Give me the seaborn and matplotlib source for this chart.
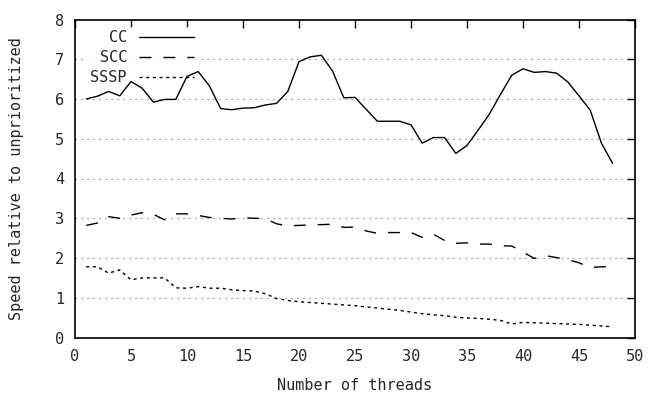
import matplotlib
matplotlib.use("Agg")
import matplotlib.pyplot as plt
import seaborn as sns
import pandas as pd

threads = list(range(1, 49))
cc = [6.0, 6.07, 6.19, 6.08, 6.44, 6.27, 5.92, 5.99, 5.99, 6.57, 6.69, 6.33, 5.76, 5.73, 5.77, 5.78,
      5.85, 5.89, 6.19, 6.94, 7.06, 7.1, 6.7, 6.03, 6.04, 5.74, 5.44, 5.44, 5.44, 5.35, 4.89, 5.03,
      5.03, 4.63, 4.83, 5.22, 5.62, 6.12, 6.6, 6.76, 6.67, 6.69, 6.65, 6.43, 6.08, 5.72, 4.89, 4.38]
scc = [2.82, 2.88, 3.04, 3.0, 3.08, 3.14, 3.1, 2.96, 3.11, 3.11, 3.07, 3.02, 3.0, 2.98, 3.01, 3.0,
       2.99, 2.86, 2.81, 2.82, 2.83, 2.84, 2.85, 2.77, 2.78, 2.68, 2.62, 2.64, 2.64, 2.64, 2.52, 2.6,
       2.44, 2.37, 2.38, 2.35, 2.35, 2.31, 2.3, 2.15, 1.99, 2.06, 2.01, 1.96, 1.88, 1.76, 1.78, 1.78]
sssp = [1.78, 1.78, 1.62, 1.7, 1.45, 1.5, 1.5, 1.5, 1.25, 1.24, 1.28, 1.24, 1.24, 1.2, 1.18, 1.17,
        1.1, 0.98, 0.93, 0.9, 0.88, 0.86, 0.84, 0.82, 0.8, 0.77, 0.74, 0.71, 0.68, 0.64, 0.6, 0.57,
        0.55, 0.51, 0.49, 0.48, 0.46, 0.43, 0.34, 0.38, 0.37, 0.36, 0.35, 0.34, 0.33, 0.31, 0.29, 0.27]
series_names = ["CC", "SCC", "SSSP"]
x_ticks = list(range(0, 51, 5))
y_ticks = list(range(0, 9))

sns.set_style("white")
plt.rcParams['font.family'] = ['DejaVu Sans Mono']
plt.rcParams['font.size'] = 11

fig = plt.figure(figsize=(6.65, 3.96), dpi=100)
ax = fig.add_axes([75/665, 1-337.5/396, 560/665, 318/396])

styles = {"CC": "-", "SCC": (0, (8.6, 8.6)), "SSSP": (0, (2.2, 2.6))}
for name, vals in zip(series_names, [cc, scc, sssp]):
    df = pd.DataFrame({"threads": threads, "speed": vals})
    sns.lineplot(data=df, x="threads", y="speed", ax=ax, color="black", linewidth=1.0,
                 linestyle=styles[name], label=name, zorder=3)

for y in y_ticks[1:-1]:
    ax.axhline(y, color="#666666", linestyle=(0, (1, 4.4)), linewidth=0.8, zorder=0)

ax.set_xlim(0, 50)
ax.set_ylim(0, 8)
ax.set_xticks(x_ticks)
ax.set_yticks(y_ticks)
ax.tick_params(direction="in", length=6, width=1, top=True, right=True, pad=8, color="black")
for s in ax.spines.values():
    s.set_color("black")
    s.set_linewidth(1.2)
    s.set_zorder(5)
ax.set_xlabel("Number of threads", labelpad=10)
ax.set_ylabel("Speed relative to unprioritized", labelpad=22)

leg = ax.legend(loc="upper left", frameon=True, markerfirst=False, handlelength=3.6,
                borderaxespad=0.0, labelspacing=0.33, bbox_to_anchor=(0.022, 0.977),
                borderpad=0.2, handletextpad=0.8)
leg.get_frame().set_facecolor("white")
leg.get_frame().set_edgecolor("none")
leg.set_zorder(1)
for t in leg.get_texts():
    t.set_ha("right")
leg._legend_box.align = "right"

fig.savefig("out.png", dpi=100)
